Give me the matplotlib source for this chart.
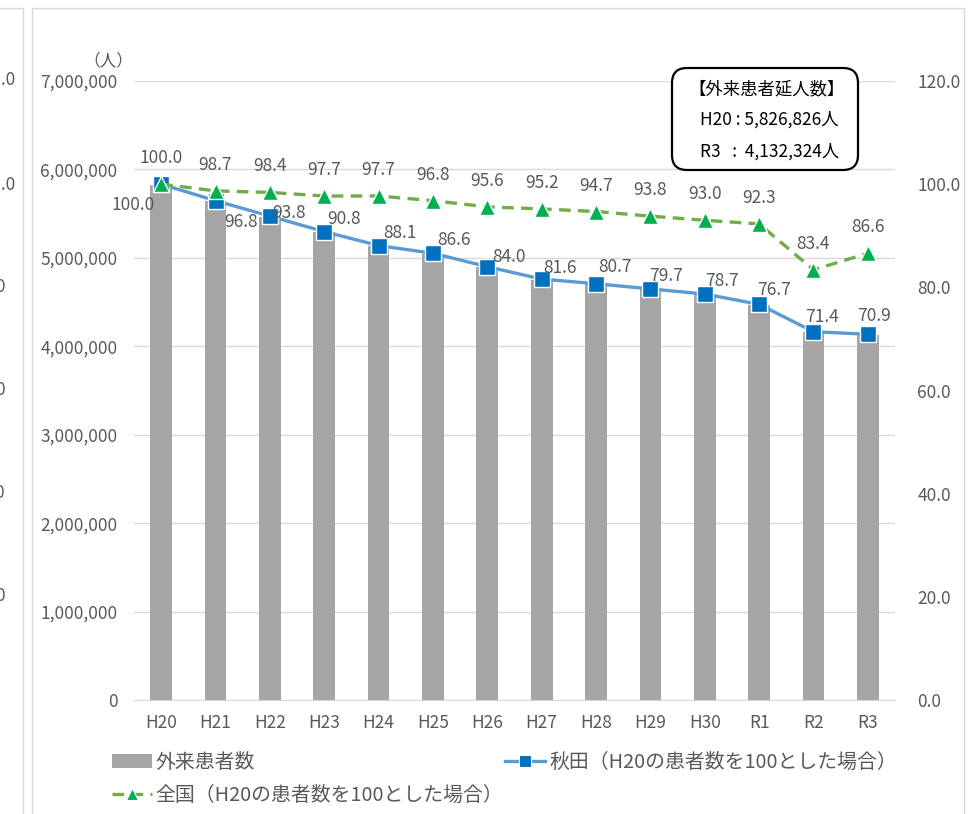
import matplotlib
matplotlib.use("Agg")
import matplotlib.pyplot as plt
from matplotlib.lines import Line2D
from matplotlib.patches import FancyBboxPatch, Patch

plt.rcParams["font.family"] = ["Noto Sans CJK JP", "DejaVu Sans"]

YEARS = ["H20", "H21", "H22", "H23", "H24", "H25", "H26",
         "H27", "H28", "H29", "H30", "R1", "R2", "R3"]
# 外来患者延人数（棒）
PATIENTS = [5826826, 5640368, 5465563, 5290758, 5133434, 5046031, 4894534,
            4754690, 4702249, 4643980, 4585712, 4469176, 4160354, 4132324]
# H20 = 100 とした指数
AKITA_IDX = [100.0, 96.8, 93.8, 90.8, 88.1, 86.6, 84.0,
             81.6, 80.7, 79.7, 78.7, 76.7, 71.4, 70.9]
NATIONAL_IDX = [100.0, 98.7, 98.4, 97.7, 97.7, 96.8, 95.6,
                95.2, 94.7, 93.8, 93.0, 92.3, 83.4, 86.6]
LEFT_TICKS = [0, 1000000, 2000000, 3000000, 4000000, 5000000, 6000000, 7000000]
RIGHT_TICKS = [0, 20, 40, 60, 80, 100, 120]

# 秋田ラベルの位置ずれ（px, Excel の自動配置っぽく）
AKITA_OFFS = [(-28, -21), (25, -21), (19, 3), (20, 13), (21, 13), (21, 13),
              (22, 10), (18, 11), (19, 17), (16, 13), (17, 13), (15, 14),
              (9, 15), (6, 18)]

W, H = 979, 814
TXT = "#595959"
GRID = "#D9D9D9"
FS = 12.5

fig = plt.figure(figsize=(W / 100, H / 100), dpi=100)
ax = fig.add_axes([134 / W, (H - 700) / H, 761 / W, 619 / H])
ax2 = ax.twinx()

x = list(range(len(YEARS)))
ax.bar(x, PATIENTS, width=0.4, color="#A5A5A5", zorder=2)
ax.set_xlim(-0.5, len(YEARS) - 0.5)
ax.set_ylim(0, 7000000)
ax.set_yticks(LEFT_TICKS)
ax.set_yticklabels([f"{v:,}" for v in LEFT_TICKS])
ax.set_xticks(x)
ax.set_xticklabels(YEARS)
ax.grid(axis="y", color=GRID, linewidth=1.0, zorder=0)
ax.set_axisbelow(True)
for side in ("top", "right", "left"):
    ax.spines[side].set_visible(False)
ax.spines["bottom"].set_color(GRID)
ax.tick_params(axis="both", length=0, labelsize=FS, labelcolor=TXT)
ax.tick_params(axis="y", pad=12)
ax.tick_params(axis="x", pad=10)

ax2.set_ylim(0, 120)
ax2.set_yticks(RIGHT_TICKS)
ax2.set_yticklabels([f"{v:.1f}" for v in RIGHT_TICKS])
for s in ax2.spines.values():
    s.set_visible(False)
ax2.tick_params(axis="y", length=0, labelsize=FS, labelcolor=TXT, pad=16)

ax2.plot(x, AKITA_IDX, color="#5B9BD5", linewidth=2.4, marker="s",
         markersize=11, markerfacecolor="#0070C0", markeredgecolor="white",
         markeredgewidth=1.0, zorder=3)
ax2.plot(x, NATIONAL_IDX, color="#70AD47", linewidth=2.4, linestyle=(0, (3.5, 2.2)),
         marker="^", markersize=12, markerfacecolor="#00B050",
         markeredgecolor="white", markeredgewidth=1.0, zorder=4)

for i, v in enumerate(NATIONAL_IDX):
    ax2.annotate(f"{v:.1f}", (i, v), xytext=(0, 26), textcoords="offset pixels",
                 ha="center", va="center", fontsize=FS, color=TXT)
for i, v in enumerate(AKITA_IDX):
    dx, dy = AKITA_OFFS[i]
    ax2.annotate(f"{v:.1f}", (i, v), xytext=(dx, dy), textcoords="offset pixels",
                 ha="center", va="center", fontsize=FS, color=TXT)

fig.text(108 / W, 1 - 61 / H, "（人）", ha="center", va="center",
         fontsize=12, color=TXT)

# 注記ボックス
box = FancyBboxPatch((6.72, (H - 170) / 100), 1.86, 1.02,
                     boxstyle="round,pad=0,rounding_size=0.15",
                     transform=fig.dpi_scale_trans, facecolor="white",
                     edgecolor="black", linewidth=1.6, zorder=10)
fig.add_artist(box)
fig.text(688 / W, 1 - 89 / H, "【外来患者延人数】", ha="left", va="center",
         fontsize=12.5, color="black", zorder=11)
fig.text(700 / W, 1 - 120 / H, "H20 : 5,826,826人", ha="left", va="center",
         fontsize=12.5, color="black", zorder=11)
fig.text(700 / W, 1 - 152 / H, "R3   :  4,132,324人", ha="left", va="center",
         fontsize=12.5, color="black", zorder=11)

# 凡例
handles = [
    Patch(facecolor="#A5A5A5", edgecolor="none", label="外来患者数"),
    Line2D([0], [0], color="#70AD47", linewidth=2.4, linestyle=(0, (3.5, 2.2)),
           marker="^", markersize=9, markerfacecolor="#00B050",
           markeredgecolor="white", markeredgewidth=0.8,
           label="全国（H20の患者数を100とした場合）"),
    Line2D([0], [0], color="#5B9BD5", linewidth=2.4, marker="s", markersize=9,
           markerfacecolor="#0070C0", markeredgecolor="white",
           markeredgewidth=0.8, label="秋田（H20の患者数を100とした場合）"),
]
fig.legend(handles=handles, ncol=2, loc="upper left",
           bbox_to_anchor=(112 / W, 1 - 752 / H), frameon=False, fontsize=14.3,
           borderpad=0, borderaxespad=0, handlelength=2.0, handletextpad=0.2,
           columnspacing=0.1, labelspacing=0.62, labelcolor=TXT)

# 枠線（隣のグラフの右端も少し見えている）
for xp in (23, 32, 964):
    fig.add_artist(Line2D([xp / W, xp / W], [0, 1 - 8 / H], color=GRID,
                          linewidth=1.0, transform=fig.transFigure))
fig.add_artist(Line2D([0, 23 / W], [1 - 8 / H, 1 - 8 / H], color=GRID,
                      linewidth=1.0, transform=fig.transFigure))
fig.add_artist(Line2D([32 / W, 964 / W], [1 - 8 / H, 1 - 8 / H], color=GRID,
                      linewidth=1.0, transform=fig.transFigure))
for v, yp in zip([120, 100, 80, 60, 40, 20], [80, 185, 287, 390, 493, 596]):
    fig.text(-28 / W, 1 - yp / H, f"{v:.1f}", ha="left", va="center",
             fontsize=FS, color=TXT)

fig.savefig("out.png", dpi=100)
